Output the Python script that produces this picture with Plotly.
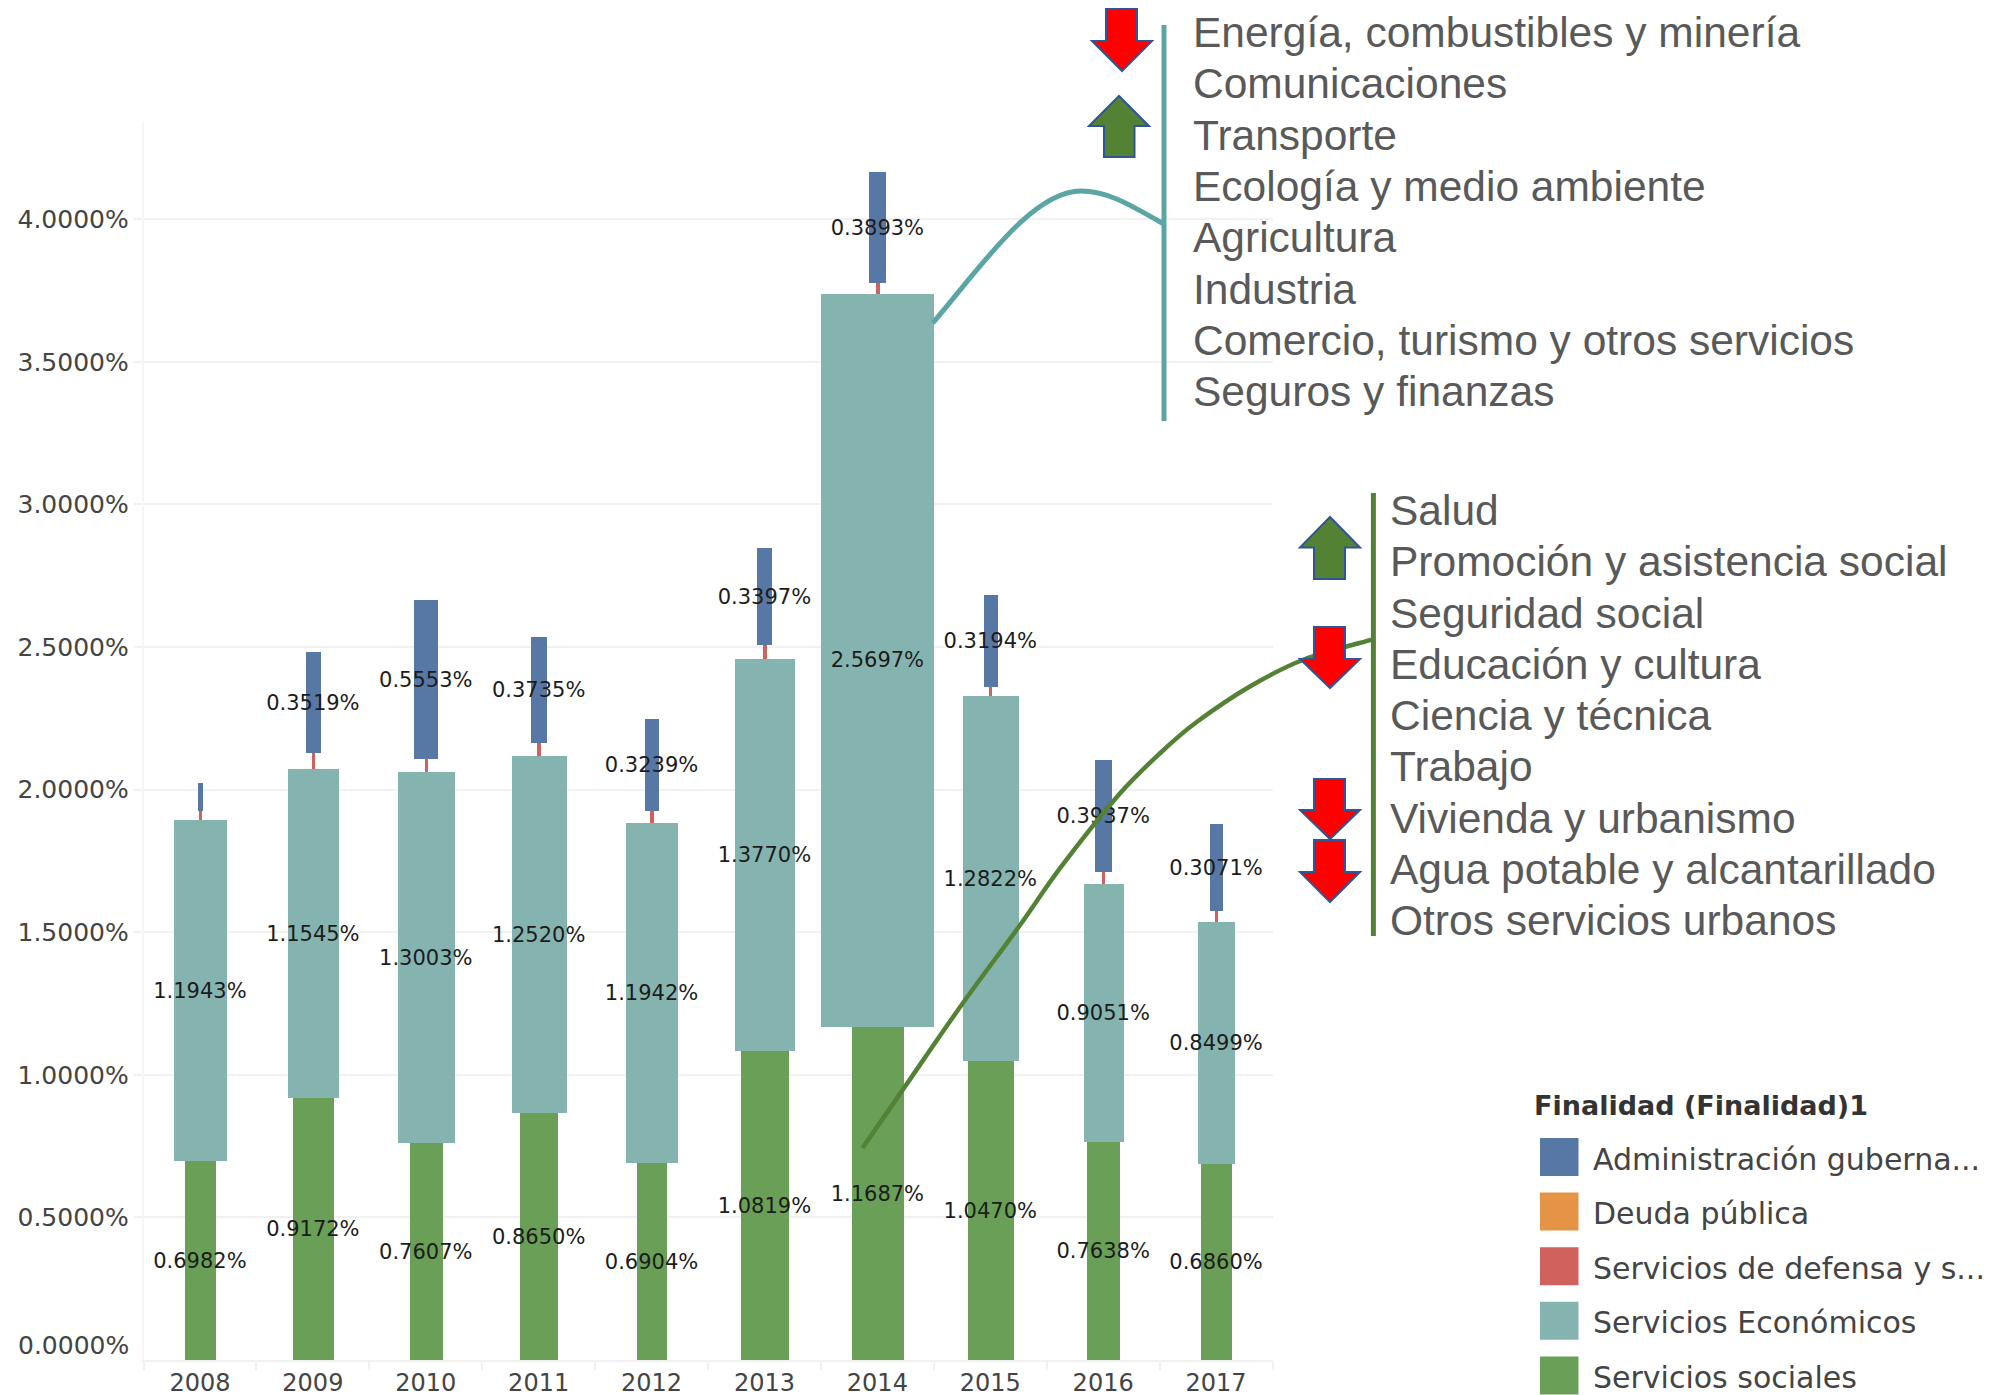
import plotly.graph_objects as go

years = ["2008","2009","2010","2011","2012","2013","2014","2015","2016","2017"]
sociales = [0.6982,0.9172,0.7607,0.8650,0.6904,1.0819,1.1687,1.0470,0.7638,0.6860]
economicos = [1.1943,1.1545,1.3003,1.2520,1.1942,1.3770,2.5697,1.2822,0.9051,0.8499]
deuda = [0,0,0,0,0,0,0,0,0,0]
defensa = [0.031,0.058,0.047,0.046,0.040,0.047,0.0375,0.032,0.042,0.037]
administracion = [0.100,0.3519,0.5553,0.3735,0.3239,0.3397,0.3893,0.3194,0.3937,0.3071]
labelled_admin = [False,True,True,True,True,True,True,True,True,True]

legend_title = "Finalidad (Finalidad)1"
series_names = ["Administración guberna...","Deuda pública","Servicios de defensa y s...","Servicios Económicos","Servicios sociales"]
list_economicos = ["Energía, combustibles y minería","Comunicaciones","Transporte","Ecología y medio ambiente",
                   "Agricultura","Industria","Comercio, turismo y otros servicios","Seguros y finanzas"]
list_sociales = ["Salud","Promoción y asistencia social","Seguridad social","Educación y cultura","Ciencia y técnica",
                 "Trabajo","Vivienda y urbanismo","Agua potable y alcantarillado","Otros servicios urbanos"]

BLUE, ORANGE, RED, TEAL, GREEN = "#5778A4", "#E49444", "#D1615D", "#85B4B0", "#6A9F58"
W, H = 2009, 1395
L, R, T, B = 143.5, 1272.5, 121, 1360
UNIT = 285.2
GRID = "#F1F1F1"
TICKFONT = "DejaVu Sans"
LABEL_NUDGE = -0.007

def px(x): return x / W
def py(y): return 1 - y / H

max_v = max(sociales + economicos + administracion)
def widths(vals): return [max(v / max_v, 0.03) for v in vals]

fig = go.Figure()
stack = [("Servicios sociales", sociales, GREEN), ("Servicios Económicos", economicos, TEAL),
         ("Deuda pública", deuda, ORANGE), ("Servicios de defensa y seguridad", defensa, RED),
         ("Administración gubernamental", administracion, BLUE)]
for name, vals, col in stack:
    fig.add_trace(go.Bar(x=years, y=vals, width=widths(vals), name=name, marker=dict(color=col, line=dict(width=0)), showlegend=False))

# data labels centred on their marks
lx, ly, lt = [], [], []
for i, yr in enumerate(years):
    b0 = sociales[i]; b1 = b0 + economicos[i]; b2 = b1 + deuda[i] + defensa[i]
    lx += [yr, yr]; ly += [b0 / 2 + LABEL_NUDGE, b0 + economicos[i] / 2 + LABEL_NUDGE]
    lt += [f"{sociales[i]:.4f}%", f"{economicos[i]:.4f}%"]
    if labelled_admin[i]:
        lx.append(yr); ly.append(b2 + administracion[i] / 2 + LABEL_NUDGE); lt.append(f"{administracion[i]:.4f}%")
fig.add_trace(go.Scatter(x=lx, y=ly, text=lt, mode="text", textposition="middle center", showlegend=False,
                         textfont=dict(family=TICKFONT, size=21, color="#1c1c1c"), hoverinfo="skip", cliponaxis=False))

def smooth_path(pts):
    P = [(px(x), py(y)) for x, y in pts]
    d = f"M {P[0][0]:.5f} {P[0][1]:.5f}"
    for i in range(len(P) - 1):
        p0 = P[max(i - 1, 0)]; p1 = P[i]; p2 = P[i + 1]; p3 = P[min(i + 2, len(P) - 1)]
        c1 = (p1[0] + (p2[0] - p0[0]) / 6, p1[1] + (p2[1] - p0[1]) / 6)
        c2 = (p2[0] - (p3[0] - p1[0]) / 6, p2[1] - (p3[1] - p1[1]) / 6)
        d += f" C {c1[0]:.5f} {c1[1]:.5f} {c2[0]:.5f} {c2[1]:.5f} {p2[0]:.5f} {p2[1]:.5f}"
    return d

def bezier_path(start, *segments):
    d = f"M {px(start[0]):.5f} {py(start[1]):.5f}"
    for seg in segments:
        d += " C " + " ".join(f"{px(x):.5f} {py(y):.5f}" for x, y in seg)
    return d

def poly(pts):
    return "M " + " L ".join(f"{px(x):.5f} {py(y):.5f}" for x, y in pts) + " Z"

shapes = []
def add_path(d, **kw):
    shapes.append(dict(type="path", xref="paper", yref="paper", path=d, **kw))

def line_v(x, y0, y1, col, w):
    add_path(f"M {px(x):.5f} {py(y0):.5f} L {px(x):.5f} {py(y1):.5f}", line=dict(color=col, width=w))

CURVE_TEAL, CURVE_GREEN = "#5BA5A5", "#548235"
add_path(bezier_path((932.7,323), [(980,268),(1032,191),(1081,191)], [(1110,191),(1135,208),(1163,223.5)]),
         line=dict(color=CURVE_TEAL, width=5))
line_v(1164, 25, 421, CURVE_TEAL, 5)
add_path(smooth_path([(862.5,1147.9),(904,1088),(961,1005.7),(1018.6,927),(1061.4,866.4),(1118.6,795),
                      (1161.4,752),(1197,721.8),(1250.7,686),(1304,659.5),(1372,639.6)]), line=dict(color=CURVE_GREEN, width=4.5))
line_v(1373.4, 493, 936, CURVE_GREEN, 5)

def arrow_down(x0, x1, s0, s1, top, base, tip):
    cx = (x0 + x1) / 2
    add_path(poly([(s0,top),(s1,top),(s1,base),(x1,base),(cx,tip),(x0,base),(s0,base)]),
             fillcolor="#FF0000", line=dict(color="#2F5597", width=2))
def arrow_up(x0, x1, s0, s1, tip, base, bottom):
    cx = (x0 + x1) / 2
    add_path(poly([(s0,bottom),(s1,bottom),(s1,base),(x1,base),(cx,tip),(x0,base),(s0,base)]),
             fillcolor=CURVE_GREEN, line=dict(color="#2F5597", width=2))
arrow_down(1092, 1152, 1106, 1137, 9, 41, 71)
arrow_up(1089, 1149, 1104, 1134.5, 96, 126, 157)
arrow_up(1300, 1360, 1314, 1345, 517, 547.5, 579)
arrow_down(1300, 1360, 1314, 1345, 627, 659, 688)
arrow_down(1300, 1360, 1314, 1345, 779, 810, 839)
arrow_down(1300, 1360, 1314, 1345, 840, 872, 902)

annotations = []
def add_text(x, y, text, size, color, family, anchor="left", bold=False):
    annotations.append(dict(xref="paper", yref="paper", x=px(x), y=py(y), text=f"<b>{text}</b>" if bold else text,
                            showarrow=False, xanchor=anchor, yanchor="middle", align=anchor,
                            font=dict(family=family, size=size, color=color)))

LIST_COL = "#595959"
for i, t in enumerate(list_economicos):
    add_text(1190.5, 32.5 + i * 51.3, t, 42.5, LIST_COL, "Liberation Sans")
for i, t in enumerate(list_sociales):
    add_text(1387.5, 510.5 + i * 51.3, t, 42.5, LIST_COL, "Liberation Sans")

add_text(131, 1345.5, "0.0000%", 25, "#444444", TICKFONT, anchor="right")

add_text(1531.5, 1105, legend_title, 27, "#333333", TICKFONT, bold=True)
legend_colors = [BLUE, ORANGE, RED, TEAL, GREEN]
for i, (t, c) in enumerate(zip(series_names, legend_colors)):
    y0 = 1138 + i * 54.6
    shapes.append(dict(type="rect", xref="paper", yref="paper", x0=px(1540), x1=px(1578.5), y0=py(y0), y1=py(y0 + 38),
                       fillcolor=c, line=dict(width=0)))
    add_text(1590.5, y0 + 21, t, 30, "#444444", TICKFONT)

tick_vals = [0.5, 1.0, 1.5, 2.0, 2.5, 3.0, 3.5, 4.0]
fig.update_layout(
    width=W, height=H, margin=dict(l=0, r=0, t=0, b=0, autoexpand=False),
    paper_bgcolor="white", plot_bgcolor="white", barmode="stack", bargap=0,
    shapes=shapes, annotations=annotations,
    xaxis=dict(type="category", domain=[L / W, R / W], range=[-0.5, 9.5], tickson="boundaries", ticks="outside",
               ticklen=8, tickcolor=GRID, tickwidth=1.5, showgrid=False, showline=True, linecolor=GRID, linewidth=2,
               tickfont=dict(family=TICKFONT, size=24, color="#444444"), automargin=False),
    yaxis=dict(domain=[1 - B / H, 1 - T / H], range=[0, (B - T) / UNIT], tickvals=tick_vals,
               ticktext=[f"{v:.4f}%" for v in tick_vals], ticks="outside", ticklen=8, tickcolor=GRID, tickwidth=2,
               gridcolor=GRID, gridwidth=2, showline=True, linecolor="#F6F6F6", linewidth=1.5, zeroline=False,
               tickfont=dict(family=TICKFONT, size=25, color="#444444"), automargin=False),
)
fig.write_html("out.html", config={"displayModeBar": False},
               post_script="document.body.style.margin='0';document.body.style.overflow='hidden';window.dispatchEvent(new Event('resize'));")
